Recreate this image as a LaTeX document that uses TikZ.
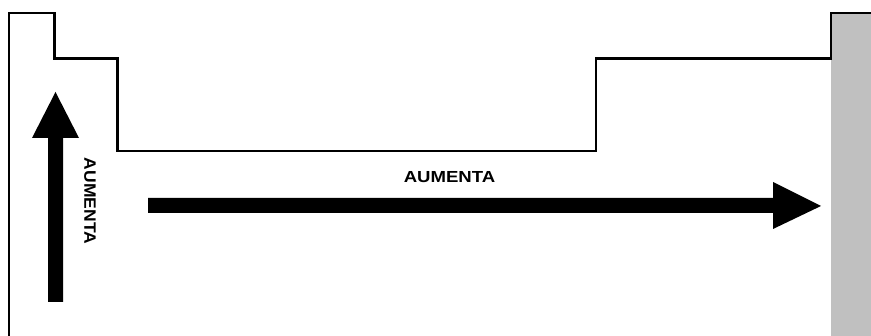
\documentclass[tikz,border=0pt]{standalone}
\usepackage{fontspec}
\setmainfont{Liberation Sans}
\begin{document}
\begin{tikzpicture}[x=1pt,y=-1pt,
  outline/.style={draw=black,line width=2.4pt,line join=miter},
  bigarrow/.style={fill=black,draw=none},
  lbl/.style={inner sep=0pt,font=\bfseries\fontsize{16}{18}\selectfont}]
\useasboundingbox (0,0) rectangle (871,336);
\fill[fill={rgb,255:red,192;green,192;blue,192}] (831,13) rectangle (871,336);
\draw[outline] (9,337) -- (9,13) -- (54.5,13) -- (54.5,58.5) -- (117.5,58.5) -- (117.5,151)
  -- (596,151) -- (596,58.5) -- (831,58.5) -- (831,13) -- (872,13);
% vertical arrow
\fill[bigarrow] (48,302) -- (48,138) -- (32,138) -- (55.5,92) -- (79,138) -- (63,138) -- (63,302) -- cycle;
% horizontal arrow
\fill[bigarrow] (148,198) -- (773,198) -- (773,182) -- (821,206) -- (773,229) -- (773,213) -- (148,213) -- cycle;
\node[lbl] (h) at (449.5,177) {\scalebox{1.16}[1]{AUMENTA}};
\node[lbl,rotate=-90,font=\bfseries\fontsize{16.5}{18}\selectfont] (v) at (90,201) {\scalebox{1.06}[1]{AUMENTA}};
\end{tikzpicture}
\end{document}
